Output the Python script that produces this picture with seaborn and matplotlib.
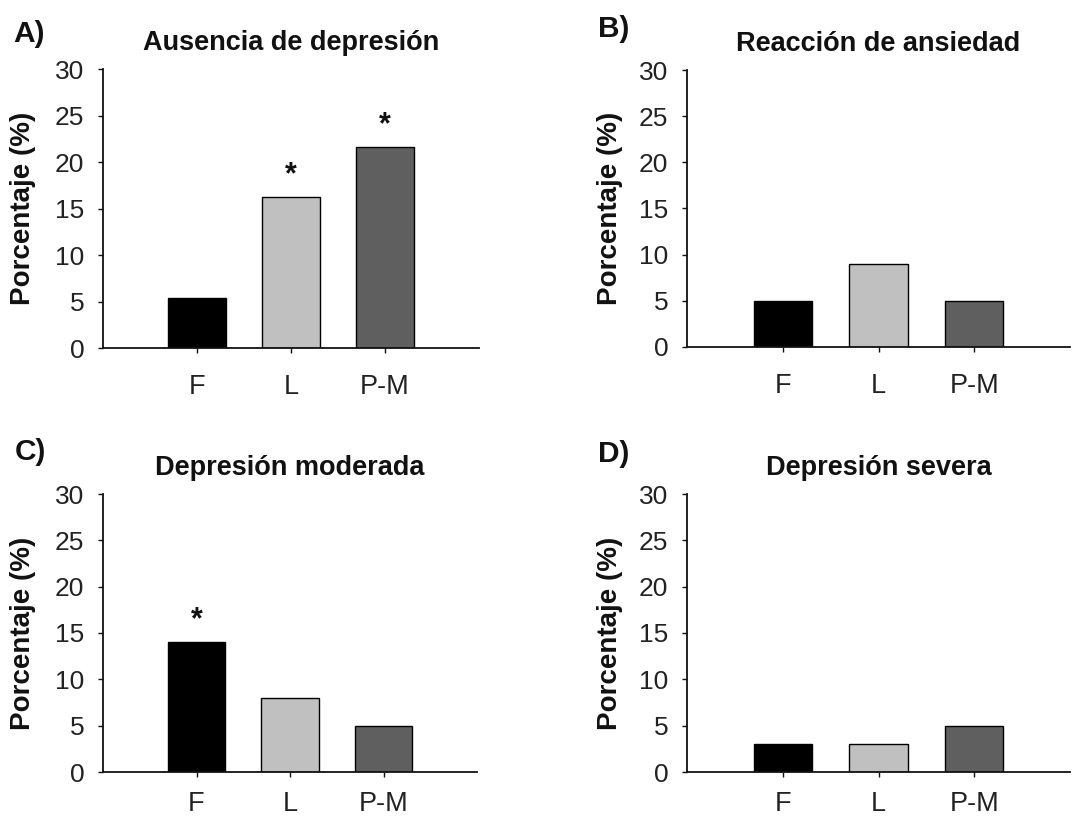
import matplotlib
matplotlib.use("Agg")
import matplotlib.pyplot as plt
import seaborn as sns
import pandas as pd

# Groups and their bar colours
groups = ["F", "L", "P-M"]
group_colors = ["#000000", "#c0c0c0", "#5f5f5f"]

# Percentages per panel
ausencia = [5.4, 16.2, 21.6]
ansiedad = [5.0, 9.0, 5.0]
moderada = [14.0, 8.0, 5.0]
severa = [3.0, 3.0, 5.0]

# Significance marks (True -> asterisk above bar)
sig_ausencia = [False, True, True]
sig_ansiedad = [False, False, False]
sig_moderada = [True, False, False]
sig_severa = [False, False, False]

panel_titles = ["Ausencia de depresión", "Reacción de ansiedad",
                "Depresión moderada", "Depresión severa"]
panel_letters = ["A)", "B)", "C)", "D)"]
y_ticks = [0, 5, 10, 15, 20, 25, 30]
y_label = "Porcentaje (%)"

sns.set_theme(style="ticks")
plt.rcParams["font.family"] = ["Liberation Sans", "DejaVu Sans"]

fig = plt.figure(figsize=(10.72, 8.18), dpi=100)

W, H = 1072, 818
# axes rectangles in pixels: left, right, top, bottom
rects = [(103, 479, 69, 348), (687, 1070, 70, 347),
         (103, 477, 494, 772), (687, 1070, 494, 772)]
letter_pos = [(13, 42), (598, 37), (15, 460), (598, 462)]
label_x = [-0.178, -0.167, -0.178, -0.167]
xtick_pad = [15, 15, 10.5, 10.5]

datasets = [ausencia, ansiedad, moderada, severa]
sigs = [sig_ausencia, sig_ansiedad, sig_moderada, sig_severa]

for i in range(4):
    l, r, t, b = rects[i]
    ax = fig.add_axes([l / W, 1 - b / H, (r - l) / W, (b - t) / H])
    df = pd.DataFrame({"grupo": groups, "valor": datasets[i]})
    sns.barplot(data=df, x="grupo", y="valor", hue="grupo",
                palette=group_colors, order=groups, hue_order=groups,
                width=0.61, edgecolor="black", linewidth=1.0,
                legend=False, ax=ax)
    ax.set_xlim(-1, 3)
    ax.set_ylim(0, 30)
    ax.set_yticks(y_ticks)
    ax.set_xlabel("")
    ax.set_ylabel(y_label, fontsize=20, fontweight="bold", color="#111111")
    ax.yaxis.set_label_coords(label_x[i], 0.5)
    ax.set_title(panel_titles[i], fontsize=19.5, fontweight="bold",
                 color="#111111", pad=14)
    for side in ["top", "right"]:
        ax.spines[side].set_visible(False)
    for side in ["left", "bottom"]:
        ax.spines[side].set_linewidth(1.3)
        ax.spines[side].set_color("#111111")
    ax.tick_params(axis="y", direction="out", length=3.5, width=1.0,
                   labelsize=19, pad=10, colors="#111111", labelcolor="#222222")
    ax.tick_params(axis="x", direction="out", length=3.5, width=1.0,
                   labelsize=19.5, pad=xtick_pad[i], colors="#111111",
                   labelcolor="#222222")
    for j, (v, s) in enumerate(zip(datasets[i], sigs[i])):
        if s:
            ax.text(j, v + 1.5, "*", ha="center", va="baseline",
                    fontsize=22, fontweight="bold", color="#111111")
    lx, ly = letter_pos[i]
    fig.text(lx / W, 1 - ly / H, panel_letters[i], fontsize=21.5,
             fontweight="bold", ha="left", va="baseline", color="#111111")

fig.savefig("out.png", dpi=100, facecolor="white")
